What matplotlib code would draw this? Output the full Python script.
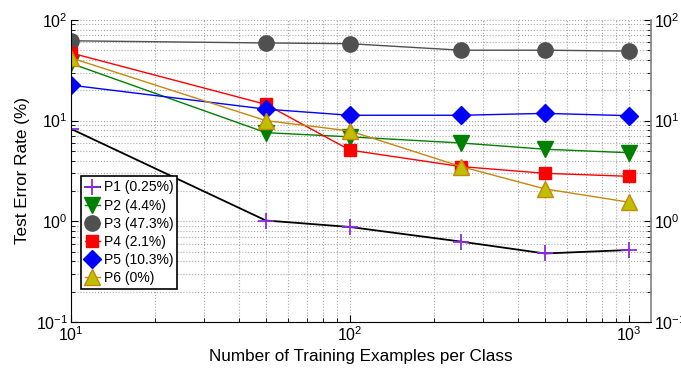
import matplotlib
matplotlib.use('Agg')
import matplotlib.pyplot as plt

plt.rcParams['font.family'] = ['Liberation Sans', 'DejaVu Sans']
plt.rcParams['mathtext.fontset'] = 'custom'
plt.rcParams['mathtext.rm'] = 'Liberation Sans'
plt.rcParams['mathtext.it'] = 'Liberation Sans:italic'
plt.rcParams['mathtext.bf'] = 'Liberation Sans:bold'

n_train = [10, 50, 100, 250, 500, 1000]
p1 = [8.3, 1.02, 0.88, 0.63, 0.48, 0.52]
p2 = [37, 7.6, 6.9, 6.0, 5.2, 4.8]
p3 = [62, 59, 58, 50, 50, 49]
p4 = [47, 14.5, 5.1, 3.5, 3.0, 2.8]
p5 = [22.5, 13, 11.3, 11.3, 11.8, 11.2]
p6 = [42, 10, 7.9, 3.5, 2.1, 1.55]
labels = ['P1 (0.25%)', 'P2 (4.4%)', 'P3 (47.3%)', 'P4 (2.1%)', 'P5 (10.3%)', 'P6 (0%)']

fig = plt.figure(figsize=(6.81, 3.75), dpi=100)
ax = fig.add_axes([0.104, 0.141, 0.852, 0.806])

ax.plot(n_train, p1, c='k', lw=1.3, marker='+', ms=12, mec='#8a2be2', mew=1.3, label=labels[0])
ax.plot(n_train, p2, c='green', lw=1, marker='v', ms=11, mfc='green', mec='green', label=labels[1])
ax.plot(n_train, p3, c='#505050', lw=1, marker='o', ms=11, mfc='#505050', mec='#505050', label=labels[2])
ax.plot(n_train, p4, c='red', lw=1, marker='s', ms=9, mfc='red', mec='red', label=labels[3])
ax.plot(n_train, p5, c='blue', lw=1, marker='D', ms=9, mfc='blue', mec='blue', label=labels[4])
ax.plot(n_train, p6, c='#c8860b', lw=1, marker='^', ms=12, mfc='#bfbf00', mec='#c8860b', label=labels[5])

ax.set_xscale('log')
ax.set_yscale('log')
ax.set_xlim(10, 1200)
ax.set_ylim(0.1, 100)

ax.grid(True, which='both', ls=':', c='#a8a8a8', lw=0.8)
ax.tick_params(which='both', direction='in', right=True, labelright=True, top=False, labelsize=11.5, pad=2)
ax.tick_params(which='major', length=5)
ax.tick_params(which='minor', length=3)
ax.spines['top'].set_visible(False)
ax.spines['right'].set_color('#808080')
ax.spines['right'].set_linewidth(1.2)

ax.set_xlabel('Number of Training Examples per Class', fontsize=12.3)
ax.set_ylabel('Test Error Rate (%)', fontsize=12.3)

leg = ax.legend(loc='lower left', bbox_to_anchor=(0.005, 0.085), fontsize=10, handlelength=1.1,
                handletextpad=0.25, borderpad=0.3, labelspacing=0.3, fancybox=False,
                edgecolor='k', framealpha=1)
leg.get_frame().set_linewidth(1.2)

plt.savefig('out.png')
